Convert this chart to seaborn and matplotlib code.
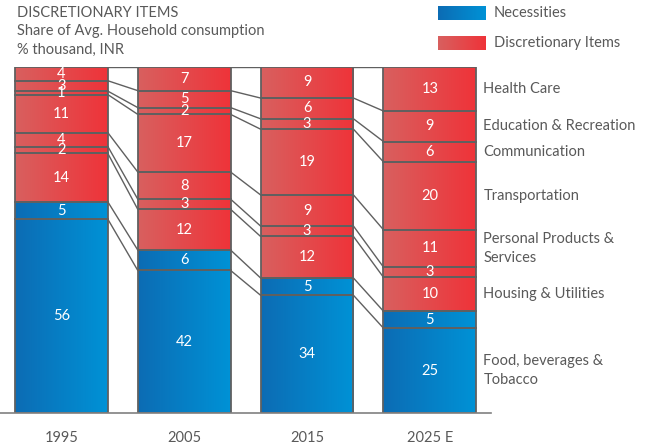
import numpy as np
import pandas as pd
import matplotlib
matplotlib.use("Agg")
import matplotlib.pyplot as plt
from matplotlib.colors import LinearSegmentedColormap
import seaborn as sns

# --- dati (segmenti dal basso verso l'alto) ---
years = ["1995", "2005", "2015", "2025 E"]
food = [56, 42, 34, 25]
necess_other = [5, 6, 5, 5]
housing = [14, 12, 12, 10]
misc = [2, 3, 3, 3]
personal = [4, 8, 9, 11]
transport = [11, 17, 19, 20]
communication = [1, 2, 3, 6]
education = [3, 5, 6, 9]
health = [4, 7, 9, 13]

segments = [food, necess_other, housing, misc, personal, transport,
            communication, education, health]
is_necessity = [True, True, False, False, False, False, False, False, False]
right_labels = ["Food, beverages &\nTobacco", "", "Housing & Utilities", "",
                "Personal Products &\nServices", "Transportation",
                "Communication", "Education & Recreation", "Health Care"]

title_lines = ["DISCRETIONARY ITEMS", "Share of Avg. Household consumption",
               "% thousand, INR"]
legend_labels = ["Necessities", "Discretionary Items"]

TXT = "#595959"
EDGE = "#606060"
blue_cmap = LinearSegmentedColormap.from_list("blu", ["#0C6CB4", "#0092D6"])
red_cmap = LinearSegmentedColormap.from_list("rosso", ["#D8605F", "#EF3339"])

sns.set_theme(style="white")
plt.rcParams["font.family"] = ["Lato", "DejaVu Sans"]

raw = np.array(segments, dtype=float)          # (segmenti, anni)
heights = raw / raw.sum(axis=0) * 100          # barre normalizzate a 100
tops = np.cumsum(heights, axis=0)
bottoms = tops - heights

fig = plt.figure(figsize=(6.49, 4.46), dpi=100)
ax = fig.add_axes([0.0, 0.074, 0.757, 0.776])

width = 0.756
grad = np.linspace(0, 1, 256).reshape(1, -1)

for k in range(len(segments)):
    df = pd.DataFrame({"anno": years, "valore": heights[k]})
    n_before = len(ax.patches)
    sns.barplot(data=df, x="anno", y="valore", order=years, bottom=bottoms[k],
                width=width, errorbar=None, color="white", ax=ax)
    cmap = blue_cmap if is_necessity[k] else red_cmap
    for patch in ax.patches[n_before:]:
        x0, y0 = patch.get_x(), patch.get_y()
        w, h = patch.get_width(), patch.get_height()
        im = ax.imshow(grad, cmap=cmap, extent=[x0, x0 + w, y0, y0 + h],
                       aspect="auto", zorder=1, interpolation="bilinear")
        im.set_clip_path(patch)
        patch.set_facecolor("none")
        patch.set_edgecolor(EDGE)
        patch.set_linewidth(1.3)
        patch.set_zorder(3)
    for i in range(len(years)):
        ax.text(i, bottoms[k][i] + heights[k][i] / 2, f"{int(raw[k][i])}",
                ha="center", va="center", color="white", fontsize=10.5, zorder=4)

# linee di collegamento tra le barre
for k in range(len(segments)):
    for i in range(len(years) - 1):
        ax.plot([i + width / 2, i + 1 - width / 2], [tops[k][i], tops[k][i + 1]],
                color=EDGE, lw=1.0, zorder=2)

# etichette a destra
last = len(years) - 1
for k, lab in enumerate(right_labels):
    if not lab:
        continue
    ax.annotate(lab, xy=(last + width / 2, bottoms[k][last] + heights[k][last] / 2),
                xytext=(5, 0), textcoords="offset points", ha="left", va="center",
                color=TXT, fontsize=10.5, linespacing=1.4, annotation_clip=False)

ax.set_xlim(-0.5, len(years) - 0.5)
ax.set_ylim(0, 100)
ax.set_xlabel("")
ax.set_ylabel("")
ax.set_yticks([])
ax.set_xticks(range(len(years)))
ax.set_xticklabels(years, color=TXT, fontsize=10.5)
ax.set_xticks(np.arange(len(years)) + 0.5, minor=True)
ax.tick_params(axis="x", which="major", length=0, pad=13)
ax.tick_params(axis="x", which="minor", length=4, color="#808080", width=1, direction="out")
for s in ["top", "right", "left"]:
    ax.spines[s].set_visible(False)
ax.spines["bottom"].set_color("#808080")
ax.spines["bottom"].set_linewidth(1.2)
ax.spines["bottom"].set_zorder(5)
ax.grid(False)

# titolo
for j, line in enumerate(title_lines):
    fig.text(17 / 649, 1 - (13 + 18.5 * j) / 446, line, ha="left", va="center",
             color=TXT, fontsize=10.5)

# legenda con gradiente
for j, (lab, cmap) in enumerate(zip(legend_labels, [blue_cmap, red_cmap])):
    yc = 13 + 30 * j
    lax = fig.add_axes([438 / 649, 1 - (yc + 7) / 446, 47 / 649, 14 / 446])
    lax.imshow(grad, cmap=cmap, aspect="auto", interpolation="bilinear")
    lax.axis("off")
    fig.text(494 / 649, 1 - yc / 446, lab, ha="left", va="center", color=TXT,
             fontsize=10.5)

fig.savefig("out.png", dpi=100)
